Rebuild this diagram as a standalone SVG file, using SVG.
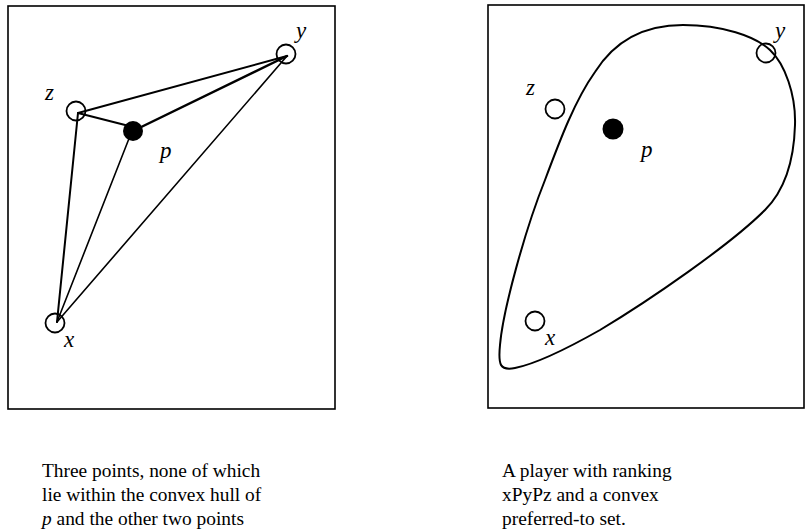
<svg xmlns="http://www.w3.org/2000/svg" width="805" height="529" viewBox="0 0 805 529">
<style>
.frame{fill:none;stroke:#000;stroke-width:1.6}
.pt{fill:none;stroke:#000;stroke-width:1.8}
.pf{fill:#000}
.lbl{font-family:"Liberation Serif","Times New Roman",serif;font-style:italic;font-size:23px;fill:#000}
.cap{font-family:"Liberation Serif","Times New Roman",serif;font-size:19.4px;fill:#000}
.ln{stroke:#000;fill:none;stroke-linecap:round}
</style>
<rect width="805" height="529" fill="#fff"/>
<g id="left-panel">
<rect class="frame" x="8" y="6" width="327" height="403"/>
</g>
<g id="connectors">
<line class="ln" x1="78" y1="113" x2="287" y2="56" stroke-width="2"/>
<line class="ln" x1="78" y1="113" x2="133" y2="127" stroke-width="2"/>
<line class="ln" x1="133" y1="131" x2="287" y2="56" stroke-width="2.5"/>
<line class="ln" x1="78" y1="113" x2="57" y2="322" stroke-width="2"/>
<line class="ln" x1="130" y1="136" x2="57" y2="322" stroke-width="1.6"/>
<line class="ln" x1="57" y1="322" x2="287" y2="56" stroke-width="1.6"/>
</g>
<g id="left-z"><circle class="pt" cx="76" cy="111" r="9.5"/><text class="lbl" x="45" y="100">z</text></g>
<g id="left-y"><circle class="pt" cx="286" cy="54" r="9.5"/><text class="lbl" x="296" y="38">y</text></g>
<g id="left-x"><circle class="pt" cx="55" cy="323" r="9.5"/><text class="lbl" x="64" y="347">x</text></g>
<g id="left-p"><circle class="pf" cx="133" cy="131" r="10"/><text class="lbl" x="160" y="158">p</text></g>
<g id="right-panel">
<rect class="frame" x="488" y="5" width="316" height="403"/>
<path class="ln" stroke-width="2" d="M 683 25 C 722 25, 755 36, 770 50 C 785 64, 796 95, 795 125 C 794 160, 785 190, 765 210 C 730 245, 650 300, 600 330 C 570 347, 535 364, 515 368 C 500 371, 498 365, 500 345 C 503 310, 525 230, 545 180 C 560 140, 575 100, 595 72 C 612 45, 640 25, 683 25 Z"/>
</g>
<g id="right-z"><circle class="pt" cx="555" cy="109" r="9.5"/><text class="lbl" x="526" y="95">z</text></g>
<g id="right-y"><circle class="pt" cx="766" cy="53" r="9.5"/><text class="lbl" x="775" y="38">y</text></g>
<g id="right-x"><circle class="pt" cx="535" cy="321" r="9.5"/><text class="lbl" x="545" y="345">x</text></g>
<g id="right-p"><circle class="pf" cx="613" cy="129" r="10.5"/><text class="lbl" x="641" y="157">p</text></g>
<g id="captions">
<text class="cap" x="42" y="477">Three points, none of which</text>
<text class="cap" x="42" y="501">lie within the convex hull of</text>
<text class="cap" x="42" y="524.5"><tspan font-style="italic">p</tspan> and the other two points</text>
<text class="cap" x="502" y="477">A player with ranking</text>
<text class="cap" x="502" y="501">xPyPz and a convex</text>
<text class="cap" x="502" y="524.5">preferred-to set.</text>
</g>
</svg>
